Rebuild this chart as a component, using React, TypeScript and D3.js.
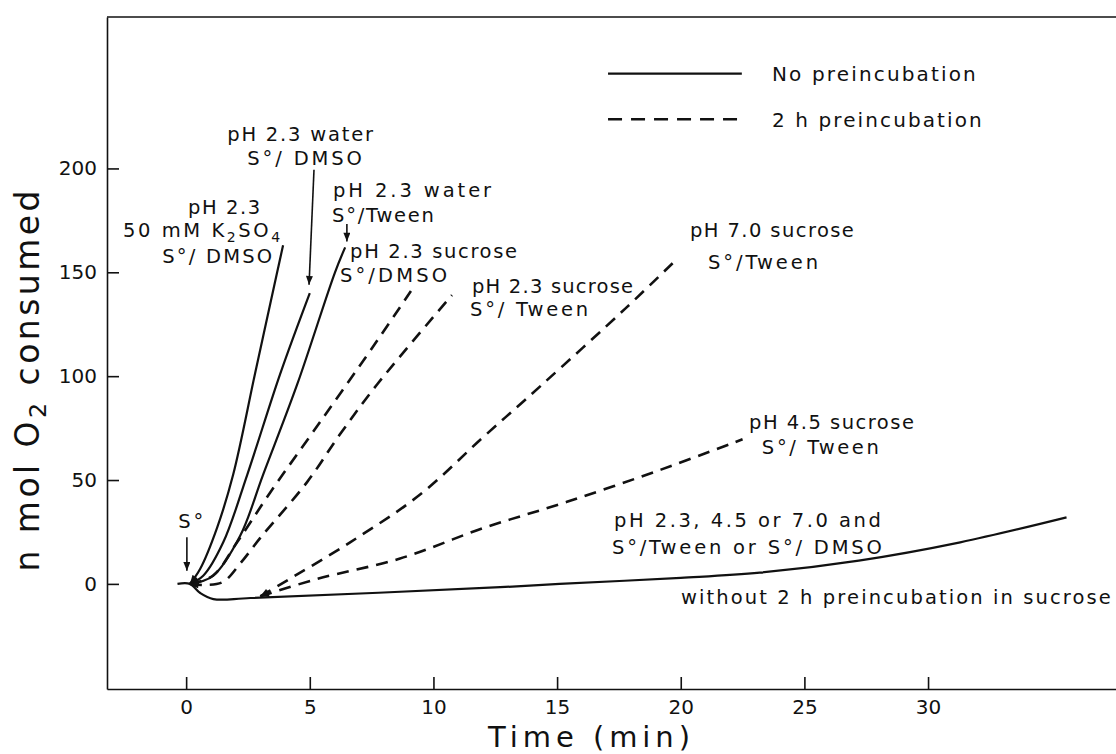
import React, { useRef, useEffect } from 'react';
import * as d3 from 'd3';

const width = 1116;
const height = 754;
const margin = { top: 17, right: 0, bottom: 72, left: 107 };
const font = "'DejaVu Sans', sans-serif";
const ink = '#111';

// axis extents (minutes, nmol O2)
const xDomain = [-3.2, 37.6];
const yDomain = [-50.6, 272.9];
const xTicks = [0, 5, 10, 15, 20, 25, 30];
const yTicks = [0, 50, 100, 150, 200];

type Pt = [number, number];

// no preincubation (solid)
const k2so4Dmso: Pt[] = [[0.15, 0], [0.57, 7.3], [1.25, 27], [1.9, 52.5], [2.8, 102], [3.68, 150], [3.92, 163]];
const waterDmso: Pt[] = [[0.15, 0], [0.69, 3.9], [1.5, 20], [2.47, 52.5], [3.8, 101], [5.0, 140]];
const waterTween: Pt[] = [[0.15, 0], [1.09, 3.9], [2.18, 23], [3.11, 52.5], [4.49, 96], [6.02, 150], [6.43, 162]];
const noSucrose: Pt[] = [[-0.35, 0], [0.15, 0], [0.57, -4.4], [1.1, -7.3], [2.6, -6.8], [12.7, -1.6], [15.1, 0], [20, 2.9], [23.2, 5.4], [27.2, 11.2], [31.3, 20], [35.6, 32]];

// 2 h preincubation (dashed)
const sucroseDmso: Pt[] = [[0.15, 0], [1.09, 4], [2.06, 20], [3.4, 44], [5.54, 80], [7.72, 117], [9.09, 141]];
const sucroseTween: Pt[] = [[0.15, 0], [0.8, -0.5], [1.5, 1], [2.2, 10], [2.99, 22], [4.89, 49], [6.22, 72], [7.72, 96], [10.75, 139]];
const ph70Tween: Pt[] = [[3.0, -6], [3.92, 0.5], [6.63, 20], [9.46, 43], [12, 70.5], [14.4, 96], [17.8, 133], [19.9, 157]];
const ph45Tween: Pt[] = [[3.0, -6], [5.3, 2.4], [8.65, 12.2], [12, 26.8], [15.4, 39.5], [19.2, 55], [22.5, 69.6]];

const series = [
  { points: k2so4Dmso, group: 'none' },
  { points: waterDmso, group: 'none' },
  { points: waterTween, group: 'none' },
  { points: noSucrose, group: 'none' },
  { points: sucroseDmso, group: '2h' },
  { points: sucroseTween, group: '2h' },
  { points: ph70Tween, group: '2h' },
  { points: ph45Tween, group: '2h' },
];

const legendItems = [
  { text: 'No preincubation', group: 'none' },
  { text: '2 h preincubation', group: '2h' },
];

// annotation layout in data units: start t, end t, baseline value
const annotations = [
  { text: 'pH 2.3', t: 0.08, tEnd: 2.99, v: 178 },
  { text: '50 mM K_2SO_4', t: -2.55, tEnd: 3.8, v: 166.8 },
  { text: 'S°/ DMSO', t: -0.97, tEnd: 3.48, v: 154.7 },
  { text: 'pH 2.3 water', t: 1.66, tEnd: 7.56, v: 213.2 },
  { text: 'S°/ DMSO', t: 2.47, tEnd: 7.11, v: 201.8 },
  { text: 'pH 2.3 water', t: 5.94, tEnd: 12.33, v: 186.3 },
  { text: 'S°/Tween', t: 5.9, tEnd: 10.02, v: 174.1 },
  { text: 'pH 2.3 sucrose', t: 6.63, tEnd: 13.38, v: 157.1 },
  { text: 'S°/DMSO', t: 6.22, tEnd: 10.55, v: 145.4 },
  { text: 'pH 2.3 sucrose', t: 11.56, tEnd: 18.07, v: 140.1 },
  { text: 'S°/ Tween', t: 11.48, tEnd: 16.25, v: 128.9 },
  { text: 'pH 7.0 sucrose', t: 20.37, tEnd: 27.0, v: 166.8 },
  { text: 'S°/Tween', t: 21.1, tEnd: 25.55, v: 151.5 },
  { text: 'pH 4.5 sucrose', t: 22.76, tEnd: 29.43, v: 74.4 },
  { text: 'S°/ Tween', t: 23.28, tEnd: 28.01, v: 62.3 },
  { text: 'pH 2.3, 4.5 or 7.0 and', t: 17.3, tEnd: 28.09, v: 27.2 },
  { text: 'S°/Tween or S°/ DMSO', t: 17.22, tEnd: 28.13, v: 14.6 },
  { text: 'without 2 h preincubation in sucrose', t: 20.01, tEnd: 37.39, v: -9.7 },
  { text: 'S°', t: -0.32, tEnd: 0.69, v: 26.8 },
];

// pointer arrows: from -> to, data units
const arrows = [
  { from: [0.03, 22.4], to: [0.03, 6.3] },
  { from: [5.17, 199.4], to: [4.97, 144] },
  { from: [6.5, 173.3], to: [6.5, 164.8] },
];

// legend layout, data units
const legendLayout = { t0: 17.06, t1: 22.47, tText: 23.69, tTextEnd: [31.93, 32.17], v: [245.6, 223.7], dv: -3.6 };

const dash = '12,8';

function addText(g: any, str: string, x: number, y: number, size: number, len?: number, anchor = 'start') {
  const t = g
    .append('text')
    .attr('x', x)
    .attr('y', y)
    .attr('font-family', font)
    .attr('font-size', size)
    .attr('fill', ink)
    .attr('text-anchor', anchor);
  if (len) t.attr('textLength', len).attr('lengthAdjust', 'spacing');
  const parts = str.split(/(_\d)/).filter(Boolean);
  let sub = false;
  parts.forEach(p => {
    if (p.startsWith('_')) {
      t.append('tspan').attr('dy', size * 0.22).attr('font-size', size * 0.72).text(p.slice(1));
      sub = true;
    } else {
      t.append('tspan').attr('dy', sub ? -size * 0.22 : 0).text(p);
      sub = false;
    }
  });
  return t;
}

const Chart: React.FC = () => {
  const svgRef = useRef<SVGSVGElement>(null);

  useEffect(() => {
    document.body.style.margin = '0';
    const svg = d3.select(svgRef.current as any);
    svg.selectAll('*').remove();

    const x = d3.scaleLinear().domain(xDomain).range([margin.left, width - margin.right]);
    const y = d3.scaleLinear().domain(yDomain).range([height - margin.bottom + 7, margin.top]);

    const defs = svg.append('defs');
    defs
      .append('marker')
      .attr('id', 'tip')
      .attr('markerUnits', 'userSpaceOnUse')
      .attr('viewBox', '0 0 10 8')
      .attr('markerWidth', 11)
      .attr('markerHeight', 7)
      .attr('refX', 10)
      .attr('refY', 4)
      .attr('orient', 'auto-start-reverse')
      .append('path')
      .attr('d', 'M0,0 L10,4 L0,8 Z')
      .attr('fill', ink);

    // axes
    const yAxis = svg
      .append('g')
      .attr('transform', `translate(${x(xDomain[0])},0)`)
      .call(
        d3.axisLeft(y).tickValues(yTicks).tickSizeInner(-12).tickSizeOuter(0).tickPadding(10).tickFormat(d3.format('d')),
      );
    const xAxis = svg
      .append('g')
      .attr('transform', `translate(0,${y(yDomain[0])})`)
      .call(
        d3.axisBottom(x).tickValues(xTicks).tickSizeInner(-12).tickSizeOuter(0).tickPadding(11).tickFormat(d3.format('d')),
      );
    [yAxis, xAxis].forEach(a => {
      a.selectAll('path, line').attr('stroke', ink).attr('stroke-width', 1.6);
      a.selectAll('text').attr('font-family', font).attr('font-size', 20).attr('fill', ink);
    });

    // top frame line
    svg
      .append('line')
      .attr('x1', x(xDomain[0]))
      .attr('x2', x(xDomain[1]))
      .attr('y1', y(yDomain[1]))
      .attr('y2', y(yDomain[1]))
      .attr('stroke', ink)
      .attr('stroke-width', 1.6);

    // curves
    const line = d3
      .line<Pt>()
      .x(d => x(d[0]))
      .y(d => y(d[1]))
      .curve(d3.curveCatmullRom.alpha(0.5));

    svg
      .append('g')
      .selectAll('path')
      .data(series)
      .join('path')
      .attr('d', d => line(d.points))
      .attr('fill', 'none')
      .attr('stroke', ink)
      .attr('stroke-width', d => (d.group === '2h' ? 2.6 : 2.2))
      .attr('stroke-dasharray', d => (d.group === '2h' ? dash : null))
      .attr('marker-start', d => (d.points[0][0] > 0 ? 'url(#tip)' : null));

    // pointer arrows
    svg
      .append('g')
      .selectAll('line')
      .data(arrows)
      .join('line')
      .attr('x1', d => x(d.from[0]))
      .attr('y1', d => y(d.from[1]))
      .attr('x2', d => x(d.to[0]))
      .attr('y2', d => y(d.to[1]))
      .attr('stroke', ink)
      .attr('stroke-width', 1.6)
      .attr('marker-end', 'url(#tip)');

    // annotations
    const ann = svg.append('g');
    annotations.forEach(a => {
      addText(ann, a.text, x(a.t), y(a.v), 19.5, x(a.tEnd) - x(a.t));
    });

    // legend
    const lg = svg.append('g');
    legendItems.forEach((item, i) => {
      lg.append('line')
        .attr('x1', x(legendLayout.t0))
        .attr('x2', x(legendLayout.t1))
        .attr('y1', y(legendLayout.v[i]))
        .attr('y2', y(legendLayout.v[i]))
        .attr('stroke', ink)
        .attr('stroke-width', item.group === '2h' ? 2.6 : 2.2)
        .attr('stroke-dasharray', item.group === '2h' ? '14,9' : null);
      addText(
        lg,
        item.text,
        x(legendLayout.tText),
        y(legendLayout.v[i] + legendLayout.dv),
        20,
        x(legendLayout.tTextEnd[i]) - x(legendLayout.tText),
      );
    });

    // axis titles
    addText(svg, 'Time (min)', 589, 747, 29, 202, 'middle');
    const yl = addText(svg, 'n mol O_2 consumed', 0, 0, 33, 381, 'middle');
    yl.attr('transform', `translate(39,381) rotate(-90)`);
  }, []);

  return <svg ref={svgRef} width={width} height={height} style={{ display: 'block', background: '#fff' }} />;
};

export default function App() {
  return <Chart />;
}
